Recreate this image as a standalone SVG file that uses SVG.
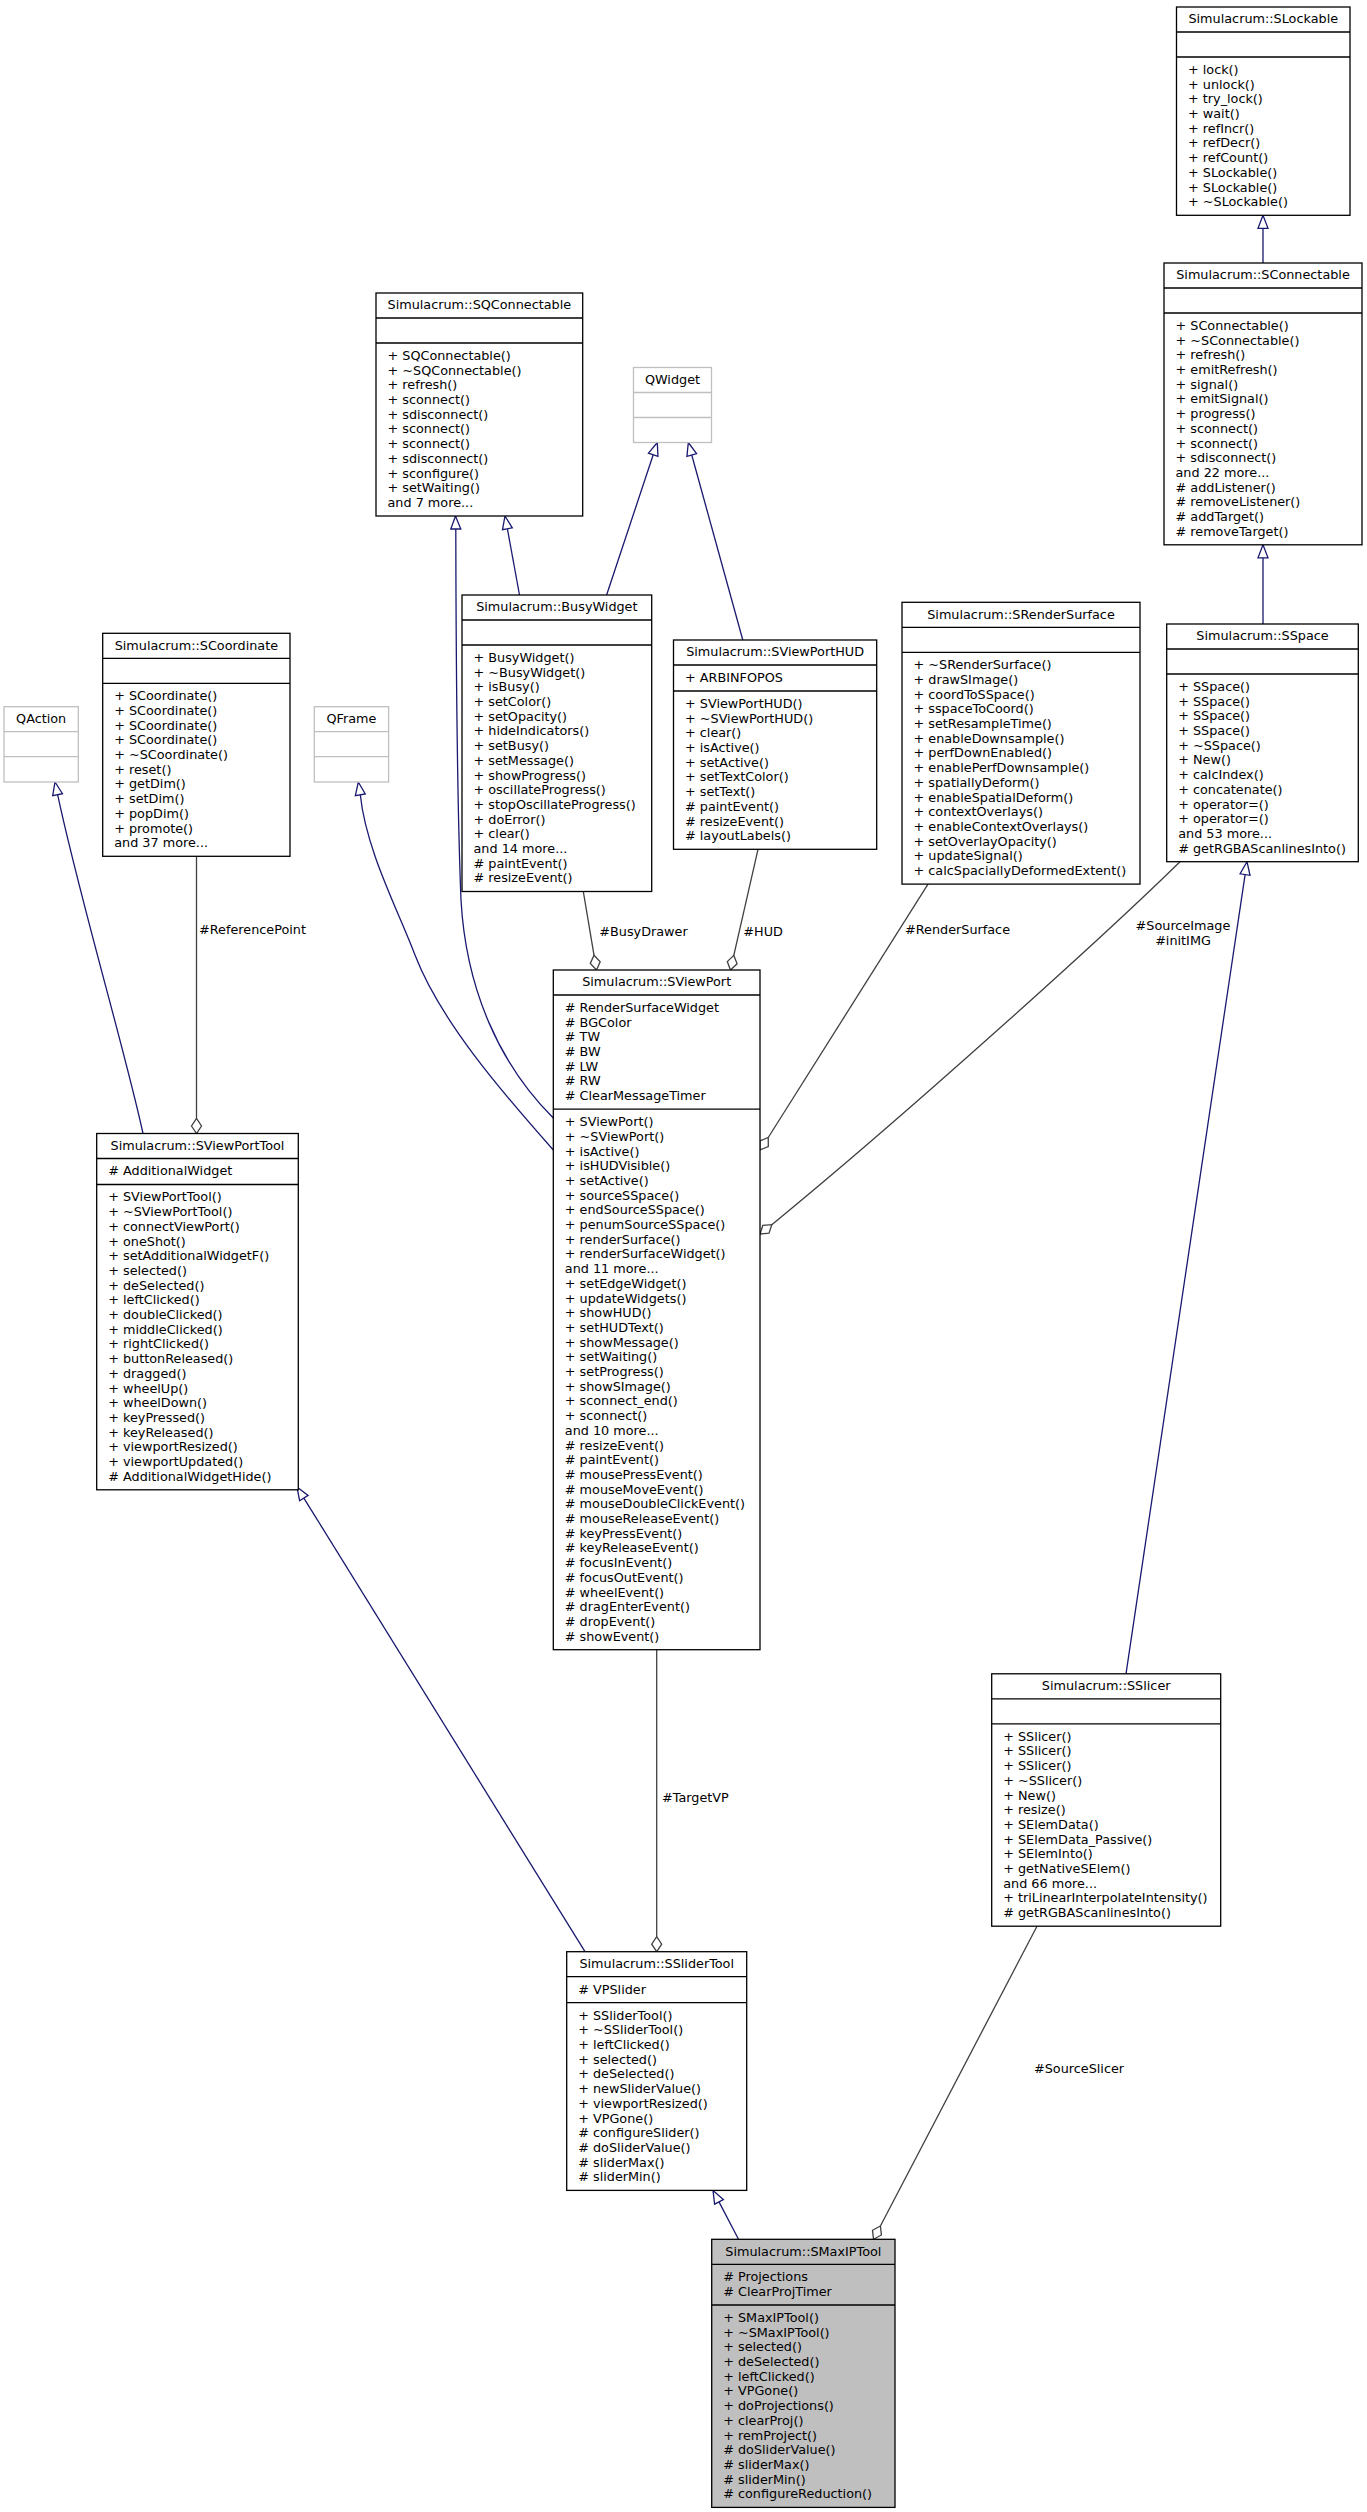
<svg xmlns="http://www.w3.org/2000/svg" width="1367" height="2512" viewBox="0 0 1367 2512">
<style>
text{font-family:'DejaVu Sans','Liberation Sans',sans-serif;font-size:12.8px;fill:#000}
.t{text-anchor:middle}
.box{fill:#fff;stroke:#000;stroke-width:1.3}
.ext{fill:#fff;stroke:#bfbfbf;stroke-width:1.3}
.main{fill:#bfbfbf;stroke:#000;stroke-width:1.3}
.sep{stroke:#000;stroke-width:1.3}
.sepx{stroke:#bfbfbf;stroke-width:1.3}
.inh{fill:none;stroke:#191970;stroke-width:1.3}
.inha{fill:#fff;stroke:#191970;stroke-width:1.3}
.agg{fill:none;stroke:#404040;stroke-width:1.3}
.agga{fill:#fff;stroke:#404040;stroke-width:1.3}
</style>
<rect width="1367" height="2512" fill="#fff"/>
<g id="connectors">
<!-- inheritance -->
<path class="inh" d="M1263,263 L1263,228.3"/><polygon class="inha" points="1263,215.3 1258,228.3 1268,228.3"/>
<path class="inh" d="M1263,624 L1263,557.8"/><polygon class="inha" points="1263,544.8 1258,557.8 1268,557.8"/>
<path class="inh" d="M519.5,595 L507.4,528.8"/><polygon class="inha" points="505,516 512.3,527.9 502.5,529.7"/>
<path class="inh" d="M606.6,595 L653.2,454.8"/><polygon class="inha" points="657.3,442.5 657.95,456.4 648.45,453.2"/>
<path class="inh" d="M742.8,640 L691.76,455.03"/><polygon class="inha" points="688.3,442.5 696.58,453.7 686.94,456.36"/>
<path class="inh" d="M553.3,1118 C500,1065 466,990 461,900 C457,800 456,640 455.8,529"/><polygon class="inha" points="455.5,516 450.8,529 460.8,529"/>
<path class="inh" d="M553.3,1150 C500,1090 440,1020 415,955 C398,910 366,850 360.3,794.8"/><polygon class="inha" points="358.3,782 365.24,794 355.36,795.6"/>
<path class="inh" d="M143,1133.5 C125,1050 80,900 57.64,794.7"/><polygon class="inha" points="55,782 62.5,793.7 52.7,795.7"/>
<path class="inh" d="M585,1951.7 L303.85,1498.05"/><polygon class="inha" points="297,1487 308.1,1495.4 299.6,1500.7"/>
<path class="inh" d="M738.5,2239.3 L719,2201.9"/><polygon class="inha" points="713,2190.4 723.4,2199.6 714.6,2204.2"/>
<path class="inh" d="M1126,1673.8 L1245.1,874.56"/><polygon class="inha" points="1247,861.7 1250,875.3 1240.1,873.8"/>
<!-- aggregation -->
<path class="agg" d="M196.5,856.3 L196.5,1118.5"/><polygon class="agga" points="196.5,1133.5 191.5,1126 196.5,1118.5 201.5,1126"/>
<path class="agg" d="M583.3,891.5 L594,955.2"/><polygon class="agga" points="596.5,970 600.2,961.8 594,955.2 590.3,963.4"/>
<path class="agg" d="M758,849.3 L733.8,955.4"/><polygon class="agga" points="730.5,970 737.1,963.8 733.8,955.4 727.3,961.6"/>
<path class="agg" d="M928,884.1 L768.25,1137.5"/><polygon class="agga" points="760,1150 768.3,1146.5 768.25,1137.5 759.9,1141"/>
<path class="agg" d="M1180,861.7 C1100,940 900,1120 771.8,1224.7"/><polygon class="agga" points="760,1234 769,1233.25 771.8,1224.7 762.8,1225.45"/>
<path class="agg" d="M656.7,1649.7 L656.7,1936.7"/><polygon class="agga" points="656.7,1951.7 651.7,1944.2 656.7,1936.7 661.7,1944.2"/>
<path class="agg" d="M1037,1926.2 L880.4,2226"/><polygon class="agga" points="873.5,2239.3 881.4,2234.97 880.4,2226 872.5,2230.3"/>
<text x="199" y="934">#ReferencePoint</text>
<text x="599.3" y="935.5">#BusyDrawer</text>
<text x="743.3" y="935.5">#HUD</text>
<text x="905" y="934">#RenderSurface</text>
<text class="t" x="1183" y="929.5">#SourceImage</text>
<text class="t" x="1183" y="945">#initIMG</text>
<text x="662" y="1802">#TargetVP</text>
<text x="1034" y="2073">#SourceSlicer</text>
</g>
<g id="SLockable">
<rect class="box" x="1176.5" y="7" width="173.5" height="208.3"/>
<line class="sep" x1="1176.5" y1="32" x2="1350" y2="32"/><line class="sep" x1="1176.5" y1="57" x2="1350" y2="57"/>
<text class="t" x="1263.25" y="23.2">Simulacrum::SLockable</text>
<text x="1188" y="73.9"><tspan x="1188">+ lock()</tspan><tspan x="1188" dy="14.7">+ unlock()</tspan><tspan x="1188" dy="14.7">+ try_lock()</tspan><tspan x="1188" dy="14.7">+ wait()</tspan><tspan x="1188" dy="14.7">+ refIncr()</tspan><tspan x="1188" dy="14.7">+ refDecr()</tspan><tspan x="1188" dy="14.7">+ refCount()</tspan><tspan x="1188" dy="14.7">+ SLockable()</tspan><tspan x="1188" dy="14.7">+ SLockable()</tspan><tspan x="1188" dy="14.7">+ ~SLockable()</tspan></text>
</g>
<g id="SConnectable">
<rect class="box" x="1164" y="263" width="198" height="281.8"/>
<line class="sep" x1="1164" y1="288" x2="1362" y2="288"/><line class="sep" x1="1164" y1="313" x2="1362" y2="313"/>
<text class="t" x="1263" y="279.2">Simulacrum::SConnectable</text>
<text x="1175.5" y="329.9"><tspan x="1175.5">+ SConnectable()</tspan><tspan x="1175.5" dy="14.7">+ ~SConnectable()</tspan><tspan x="1175.5" dy="14.7">+ refresh()</tspan><tspan x="1175.5" dy="14.7">+ emitRefresh()</tspan><tspan x="1175.5" dy="14.7">+ signal()</tspan><tspan x="1175.5" dy="14.7">+ emitSignal()</tspan><tspan x="1175.5" dy="14.7">+ progress()</tspan><tspan x="1175.5" dy="14.7">+ sconnect()</tspan><tspan x="1175.5" dy="14.7">+ sconnect()</tspan><tspan x="1175.5" dy="14.7">+ sdisconnect()</tspan><tspan x="1175.5" dy="14.7">and 22 more...</tspan><tspan x="1175.5" dy="14.7"># addListener()</tspan><tspan x="1175.5" dy="14.7"># removeListener()</tspan><tspan x="1175.5" dy="14.7"># addTarget()</tspan><tspan x="1175.5" dy="14.7"># removeTarget()</tspan></text>
</g>
<g id="SSpace">
<rect class="box" x="1166.7" y="624" width="191.6" height="237.7"/>
<line class="sep" x1="1166.7" y1="649" x2="1358.3" y2="649"/><line class="sep" x1="1166.7" y1="674" x2="1358.3" y2="674"/>
<text class="t" x="1262.5" y="640.2">Simulacrum::SSpace</text>
<text x="1178.2" y="690.9"><tspan x="1178.2">+ SSpace()</tspan><tspan x="1178.2" dy="14.7">+ SSpace()</tspan><tspan x="1178.2" dy="14.7">+ SSpace()</tspan><tspan x="1178.2" dy="14.7">+ SSpace()</tspan><tspan x="1178.2" dy="14.7">+ ~SSpace()</tspan><tspan x="1178.2" dy="14.7">+ New()</tspan><tspan x="1178.2" dy="14.7">+ calcIndex()</tspan><tspan x="1178.2" dy="14.7">+ concatenate()</tspan><tspan x="1178.2" dy="14.7">+ operator=()</tspan><tspan x="1178.2" dy="14.7">+ operator=()</tspan><tspan x="1178.2" dy="14.7">and 53 more...</tspan><tspan x="1178.2" dy="14.7"># getRGBAScanlinesInto()</tspan></text>
</g>
<g id="SQConnectable">
<rect class="box" x="376" y="293" width="206.7" height="223"/>
<line class="sep" x1="376" y1="318" x2="582.7" y2="318"/><line class="sep" x1="376" y1="343" x2="582.7" y2="343"/>
<text class="t" x="479.35" y="309.2">Simulacrum::SQConnectable</text>
<text x="387.5" y="359.9"><tspan x="387.5">+ SQConnectable()</tspan><tspan x="387.5" dy="14.7">+ ~SQConnectable()</tspan><tspan x="387.5" dy="14.7">+ refresh()</tspan><tspan x="387.5" dy="14.7">+ sconnect()</tspan><tspan x="387.5" dy="14.7">+ sdisconnect()</tspan><tspan x="387.5" dy="14.7">+ sconnect()</tspan><tspan x="387.5" dy="14.7">+ sconnect()</tspan><tspan x="387.5" dy="14.7">+ sdisconnect()</tspan><tspan x="387.5" dy="14.7">+ sconfigure()</tspan><tspan x="387.5" dy="14.7">+ setWaiting()</tspan><tspan x="387.5" dy="14.7">and 7 more...</tspan></text>
</g>
<g id="QWidget">
<rect class="ext" x="633.5" y="367.5" width="78" height="75"/>
<line class="sepx" x1="633.5" y1="392.5" x2="711.5" y2="392.5"/><line class="sepx" x1="633.5" y1="417.5" x2="711.5" y2="417.5"/>
<text class="t" x="672.5" y="383.7">QWidget</text>
</g>
<g id="BusyWidget">
<rect class="box" x="462" y="595" width="189.7" height="296.5"/>
<line class="sep" x1="462" y1="620" x2="651.7" y2="620"/><line class="sep" x1="462" y1="645" x2="651.7" y2="645"/>
<text class="t" x="556.85" y="611.2">Simulacrum::BusyWidget</text>
<text x="473.5" y="661.9"><tspan x="473.5">+ BusyWidget()</tspan><tspan x="473.5" dy="14.7">+ ~BusyWidget()</tspan><tspan x="473.5" dy="14.7">+ isBusy()</tspan><tspan x="473.5" dy="14.7">+ setColor()</tspan><tspan x="473.5" dy="14.7">+ setOpacity()</tspan><tspan x="473.5" dy="14.7">+ hideIndicators()</tspan><tspan x="473.5" dy="14.7">+ setBusy()</tspan><tspan x="473.5" dy="14.7">+ setMessage()</tspan><tspan x="473.5" dy="14.7">+ showProgress()</tspan><tspan x="473.5" dy="14.7">+ oscillateProgress()</tspan><tspan x="473.5" dy="14.7">+ stopOscillateProgress()</tspan><tspan x="473.5" dy="14.7">+ doError()</tspan><tspan x="473.5" dy="14.7">+ clear()</tspan><tspan x="473.5" dy="14.7">and 14 more...</tspan><tspan x="473.5" dy="14.7"># paintEvent()</tspan><tspan x="473.5" dy="14.7"># resizeEvent()</tspan></text>
</g>
<g id="SViewPortHUD">
<rect class="box" x="673.5" y="640" width="203.2" height="209.3"/>
<line class="sep" x1="673.5" y1="665" x2="876.7" y2="665"/><line class="sep" x1="673.5" y1="691" x2="876.7" y2="691"/>
<text class="t" x="775.1" y="656.2">Simulacrum::SViewPortHUD</text>
<text x="685" y="681.9">+ ARBINFOPOS</text>
<text x="685" y="707.9"><tspan x="685">+ SViewPortHUD()</tspan><tspan x="685" dy="14.7">+ ~SViewPortHUD()</tspan><tspan x="685" dy="14.7">+ clear()</tspan><tspan x="685" dy="14.7">+ isActive()</tspan><tspan x="685" dy="14.7">+ setActive()</tspan><tspan x="685" dy="14.7">+ setTextColor()</tspan><tspan x="685" dy="14.7">+ setText()</tspan><tspan x="685" dy="14.7"># paintEvent()</tspan><tspan x="685" dy="14.7"># resizeEvent()</tspan><tspan x="685" dy="14.7"># layoutLabels()</tspan></text>
</g>
<g id="SRenderSurface">
<rect class="box" x="902" y="602.3" width="238" height="281.8"/>
<line class="sep" x1="902" y1="627.3" x2="1140" y2="627.3"/><line class="sep" x1="902" y1="652.3" x2="1140" y2="652.3"/>
<text class="t" x="1021" y="618.5">Simulacrum::SRenderSurface</text>
<text x="913.5" y="669.2"><tspan x="913.5">+ ~SRenderSurface()</tspan><tspan x="913.5" dy="14.7">+ drawSImage()</tspan><tspan x="913.5" dy="14.7">+ coordToSSpace()</tspan><tspan x="913.5" dy="14.7">+ sspaceToCoord()</tspan><tspan x="913.5" dy="14.7">+ setResampleTime()</tspan><tspan x="913.5" dy="14.7">+ enableDownsample()</tspan><tspan x="913.5" dy="14.7">+ perfDownEnabled()</tspan><tspan x="913.5" dy="14.7">+ enablePerfDownsample()</tspan><tspan x="913.5" dy="14.7">+ spatiallyDeform()</tspan><tspan x="913.5" dy="14.7">+ enableSpatialDeform()</tspan><tspan x="913.5" dy="14.7">+ contextOverlays()</tspan><tspan x="913.5" dy="14.7">+ enableContextOverlays()</tspan><tspan x="913.5" dy="14.7">+ setOverlayOpacity()</tspan><tspan x="913.5" dy="14.7">+ updateSignal()</tspan><tspan x="913.5" dy="14.7">+ calcSpaciallyDeformedExtent()</tspan></text>
</g>
<g id="QAction">
<rect class="ext" x="4" y="706.7" width="74.3" height="75.3"/>
<line class="sepx" x1="4" y1="731.7" x2="78.3" y2="731.7"/><line class="sepx" x1="4" y1="756.7" x2="78.3" y2="756.7"/>
<text class="t" x="41.15" y="722.9">QAction</text>
</g>
<g id="SCoordinate">
<rect class="box" x="102.7" y="633.3" width="187.3" height="223"/>
<line class="sep" x1="102.7" y1="658.3" x2="290" y2="658.3"/><line class="sep" x1="102.7" y1="683.3" x2="290" y2="683.3"/>
<text class="t" x="196.35" y="649.5">Simulacrum::SCoordinate</text>
<text x="114.2" y="700.2"><tspan x="114.2">+ SCoordinate()</tspan><tspan x="114.2" dy="14.7">+ SCoordinate()</tspan><tspan x="114.2" dy="14.7">+ SCoordinate()</tspan><tspan x="114.2" dy="14.7">+ SCoordinate()</tspan><tspan x="114.2" dy="14.7">+ ~SCoordinate()</tspan><tspan x="114.2" dy="14.7">+ reset()</tspan><tspan x="114.2" dy="14.7">+ getDim()</tspan><tspan x="114.2" dy="14.7">+ setDim()</tspan><tspan x="114.2" dy="14.7">+ popDim()</tspan><tspan x="114.2" dy="14.7">+ promote()</tspan><tspan x="114.2" dy="14.7">and 37 more...</tspan></text>
</g>
<g id="QFrame">
<rect class="ext" x="314.3" y="706.7" width="74.3" height="75.3"/>
<line class="sepx" x1="314.3" y1="731.7" x2="388.6" y2="731.7"/><line class="sepx" x1="314.3" y1="756.7" x2="388.6" y2="756.7"/>
<text class="t" x="351.45" y="722.9">QFrame</text>
</g>
<g id="SViewPort">
<rect class="box" x="553.3" y="970" width="206.7" height="679.7"/>
<line class="sep" x1="553.3" y1="995" x2="760" y2="995"/><line class="sep" x1="553.3" y1="1109.2" x2="760" y2="1109.2"/>
<text class="t" x="656.65" y="986.2">Simulacrum::SViewPort</text>
<text x="564.8" y="1011.9"><tspan x="564.8"># RenderSurfaceWidget</tspan><tspan x="564.8" dy="14.7"># BGColor</tspan><tspan x="564.8" dy="14.7"># TW</tspan><tspan x="564.8" dy="14.7"># BW</tspan><tspan x="564.8" dy="14.7"># LW</tspan><tspan x="564.8" dy="14.7"># RW</tspan><tspan x="564.8" dy="14.7"># ClearMessageTimer</tspan></text>
<text x="564.8" y="1126.1"><tspan x="564.8">+ SViewPort()</tspan><tspan x="564.8" dy="14.7">+ ~SViewPort()</tspan><tspan x="564.8" dy="14.7">+ isActive()</tspan><tspan x="564.8" dy="14.7">+ isHUDVisible()</tspan><tspan x="564.8" dy="14.7">+ setActive()</tspan><tspan x="564.8" dy="14.7">+ sourceSSpace()</tspan><tspan x="564.8" dy="14.7">+ endSourceSSpace()</tspan><tspan x="564.8" dy="14.7">+ penumSourceSSpace()</tspan><tspan x="564.8" dy="14.7">+ renderSurface()</tspan><tspan x="564.8" dy="14.7">+ renderSurfaceWidget()</tspan><tspan x="564.8" dy="14.7">and 11 more...</tspan><tspan x="564.8" dy="14.7">+ setEdgeWidget()</tspan><tspan x="564.8" dy="14.7">+ updateWidgets()</tspan><tspan x="564.8" dy="14.7">+ showHUD()</tspan><tspan x="564.8" dy="14.7">+ setHUDText()</tspan><tspan x="564.8" dy="14.7">+ showMessage()</tspan><tspan x="564.8" dy="14.7">+ setWaiting()</tspan><tspan x="564.8" dy="14.7">+ setProgress()</tspan><tspan x="564.8" dy="14.7">+ showSImage()</tspan><tspan x="564.8" dy="14.7">+ sconnect_end()</tspan><tspan x="564.8" dy="14.7">+ sconnect()</tspan><tspan x="564.8" dy="14.7">and 10 more...</tspan><tspan x="564.8" dy="14.7"># resizeEvent()</tspan><tspan x="564.8" dy="14.7"># paintEvent()</tspan><tspan x="564.8" dy="14.7"># mousePressEvent()</tspan><tspan x="564.8" dy="14.7"># mouseMoveEvent()</tspan><tspan x="564.8" dy="14.7"># mouseDoubleClickEvent()</tspan><tspan x="564.8" dy="14.7"># mouseReleaseEvent()</tspan><tspan x="564.8" dy="14.7"># keyPressEvent()</tspan><tspan x="564.8" dy="14.7"># keyReleaseEvent()</tspan><tspan x="564.8" dy="14.7"># focusInEvent()</tspan><tspan x="564.8" dy="14.7"># focusOutEvent()</tspan><tspan x="564.8" dy="14.7"># wheelEvent()</tspan><tspan x="564.8" dy="14.7"># dragEnterEvent()</tspan><tspan x="564.8" dy="14.7"># dropEvent()</tspan><tspan x="564.8" dy="14.7"># showEvent()</tspan></text>
</g>
<g id="SViewPortTool">
<rect class="box" x="96.7" y="1133.5" width="201.6" height="356.3"/>
<line class="sep" x1="96.7" y1="1158.5" x2="298.3" y2="1158.5"/><line class="sep" x1="96.7" y1="1184.5" x2="298.3" y2="1184.5"/>
<text class="t" x="197.5" y="1149.7">Simulacrum::SViewPortTool</text>
<text x="108.2" y="1175.4"># AdditionalWidget</text>
<text x="108.2" y="1201.4"><tspan x="108.2">+ SViewPortTool()</tspan><tspan x="108.2" dy="14.7">+ ~SViewPortTool()</tspan><tspan x="108.2" dy="14.7">+ connectViewPort()</tspan><tspan x="108.2" dy="14.7">+ oneShot()</tspan><tspan x="108.2" dy="14.7">+ setAdditionalWidgetF()</tspan><tspan x="108.2" dy="14.7">+ selected()</tspan><tspan x="108.2" dy="14.7">+ deSelected()</tspan><tspan x="108.2" dy="14.7">+ leftClicked()</tspan><tspan x="108.2" dy="14.7">+ doubleClicked()</tspan><tspan x="108.2" dy="14.7">+ middleClicked()</tspan><tspan x="108.2" dy="14.7">+ rightClicked()</tspan><tspan x="108.2" dy="14.7">+ buttonReleased()</tspan><tspan x="108.2" dy="14.7">+ dragged()</tspan><tspan x="108.2" dy="14.7">+ wheelUp()</tspan><tspan x="108.2" dy="14.7">+ wheelDown()</tspan><tspan x="108.2" dy="14.7">+ keyPressed()</tspan><tspan x="108.2" dy="14.7">+ keyReleased()</tspan><tspan x="108.2" dy="14.7">+ viewportResized()</tspan><tspan x="108.2" dy="14.7">+ viewportUpdated()</tspan><tspan x="108.2" dy="14.7"># AdditionalWidgetHide()</tspan></text>
</g>
<g id="SSlicer">
<rect class="box" x="991.7" y="1673.8" width="229" height="252.4"/>
<line class="sep" x1="991.7" y1="1698.8" x2="1220.7" y2="1698.8"/><line class="sep" x1="991.7" y1="1723.8" x2="1220.7" y2="1723.8"/>
<text class="t" x="1106.2" y="1690">Simulacrum::SSlicer</text>
<text x="1003.2" y="1740.7"><tspan x="1003.2">+ SSlicer()</tspan><tspan x="1003.2" dy="14.7">+ SSlicer()</tspan><tspan x="1003.2" dy="14.7">+ SSlicer()</tspan><tspan x="1003.2" dy="14.7">+ ~SSlicer()</tspan><tspan x="1003.2" dy="14.7">+ New()</tspan><tspan x="1003.2" dy="14.7">+ resize()</tspan><tspan x="1003.2" dy="14.7">+ SElemData()</tspan><tspan x="1003.2" dy="14.7">+ SElemData_Passive()</tspan><tspan x="1003.2" dy="14.7">+ SElemInto()</tspan><tspan x="1003.2" dy="14.7">+ getNativeSElem()</tspan><tspan x="1003.2" dy="14.7">and 66 more...</tspan><tspan x="1003.2" dy="14.7">+ triLinearInterpolateIntensity()</tspan><tspan x="1003.2" dy="14.7"># getRGBAScanlinesInto()</tspan></text>
</g>
<g id="SSliderTool">
<rect class="box" x="566.7" y="1951.7" width="180" height="238.7"/>
<line class="sep" x1="566.7" y1="1976.7" x2="746.7" y2="1976.7"/><line class="sep" x1="566.7" y1="2002.7" x2="746.7" y2="2002.7"/>
<text class="t" x="656.7" y="1967.9">Simulacrum::SSliderTool</text>
<text x="578.2" y="1993.6"># VPSlider</text>
<text x="578.2" y="2019.6"><tspan x="578.2">+ SSliderTool()</tspan><tspan x="578.2" dy="14.7">+ ~SSliderTool()</tspan><tspan x="578.2" dy="14.7">+ leftClicked()</tspan><tspan x="578.2" dy="14.7">+ selected()</tspan><tspan x="578.2" dy="14.7">+ deSelected()</tspan><tspan x="578.2" dy="14.7">+ newSliderValue()</tspan><tspan x="578.2" dy="14.7">+ viewportResized()</tspan><tspan x="578.2" dy="14.7">+ VPGone()</tspan><tspan x="578.2" dy="14.7"># configureSlider()</tspan><tspan x="578.2" dy="14.7"># doSliderValue()</tspan><tspan x="578.2" dy="14.7"># sliderMax()</tspan><tspan x="578.2" dy="14.7"># sliderMin()</tspan></text>
</g>
<g id="SMaxIPTool">
<rect class="main" x="711.7" y="2239.3" width="183.3" height="268.1"/>
<line class="sep" x1="711.7" y1="2264.3" x2="895" y2="2264.3"/><line class="sep" x1="711.7" y1="2305" x2="895" y2="2305"/>
<text class="t" x="803.35" y="2255.5">Simulacrum::SMaxIPTool</text>
<text x="723.2" y="2281.2"><tspan x="723.2"># Projections</tspan><tspan x="723.2" dy="14.7"># ClearProjTimer</tspan></text>
<text x="723.2" y="2321.9"><tspan x="723.2">+ SMaxIPTool()</tspan><tspan x="723.2" dy="14.7">+ ~SMaxIPTool()</tspan><tspan x="723.2" dy="14.7">+ selected()</tspan><tspan x="723.2" dy="14.7">+ deSelected()</tspan><tspan x="723.2" dy="14.7">+ leftClicked()</tspan><tspan x="723.2" dy="14.7">+ VPGone()</tspan><tspan x="723.2" dy="14.7">+ doProjections()</tspan><tspan x="723.2" dy="14.7">+ clearProj()</tspan><tspan x="723.2" dy="14.7">+ remProject()</tspan><tspan x="723.2" dy="14.7"># doSliderValue()</tspan><tspan x="723.2" dy="14.7"># sliderMax()</tspan><tspan x="723.2" dy="14.7"># sliderMin()</tspan><tspan x="723.2" dy="14.7"># configureReduction()</tspan></text>
</g>
</svg>
